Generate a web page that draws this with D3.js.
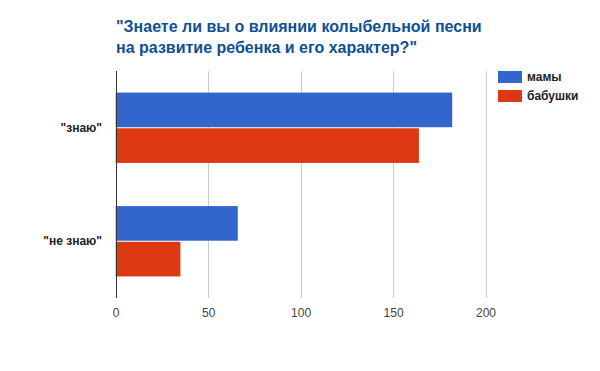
<!DOCTYPE html>
<html><head><meta charset="utf-8">
<script src="https://cdnjs.cloudflare.com/ajax/libs/d3/7.8.5/d3.min.js"></script>
<style>body{margin:0;background:#fff}svg{display:block}</style>
</head><body>
<script>
const categories = ['"знаю"', '"не знаю"'];
const seriesNames = ["мамы", "бабушки"];
const mamy = [182, 66];
const babushki = [164, 35];
const xTicks = [0, 50, 100, 150, 200];
const titleLines = ['"Знаете ли вы о влиянии колыбельной песни', 'на развитие ребенка и его характер?"'];
const colors = ["#3366cc", "#dc3912"];

const W = 600, H = 371;
const svg = d3.select("body").append("svg").attr("width", W).attr("height", H);
const font = "Arial, 'Liberation Sans', sans-serif";

const x = d3.scaleLinear().domain([0, 200]).range([115.7, 485.5]);
const y0 = d3.scaleBand().domain(categories).range([71, 298]).paddingInner(0.38).paddingOuter(0.19);
const y1 = d3.scaleBand().domain(seriesNames).range([0, y0.bandwidth()]).paddingInner(0.03);

const rows = categories.map((c, i) => ({c, vals: [mamy[i], babushki[i]]}));

// gridlines
svg.append("g").selectAll("line").data(xTicks.filter(t => t !== 0)).join("line")
  .attr("x1", d => Math.round(x(d)) + 0.5).attr("x2", d => Math.round(x(d)) + 0.5)
  .attr("y1", 71).attr("y2", 298).attr("stroke", "#cccccc").attr("stroke-width", 1);

// bars
const g = svg.append("g").selectAll("g").data(rows).join("g")
  .attr("transform", d => `translate(0,${y0(d.c)})`);
g.selectAll("rect").data(d => d.vals.map((v, j) => ({v, s: seriesNames[j], j}))).join("rect")
  .attr("x", x(0)).attr("y", d => y1(d.s)).attr("height", y1.bandwidth())
  .attr("width", d => x(d.v) - x(0)).attr("fill", d => colors[d.j]);

// zero axis
svg.append("line").attr("x1", Math.round(x(0)) + 0.5).attr("x2", Math.round(x(0)) + 0.5)
  .attr("y1", 71).attr("y2", 298).attr("stroke", "#333333").attr("stroke-width", 1);

// x tick labels
const xAxis = d3.axisBottom(x).tickValues(xTicks).tickSize(0).tickPadding(0);
const ax = svg.append("g").attr("transform", "translate(0,308)").call(xAxis);
ax.select(".domain").remove();
ax.selectAll("text").attr("font-family", font).attr("font-size", 12).attr("fill", "#444444").attr("dy", "0.71em");

// category labels
const yAxis = d3.axisLeft(y0).tickSize(0).tickPadding(0);
const ay = svg.append("g").attr("transform", "translate(102,0)").call(yAxis);
ay.select(".domain").remove();
ay.selectAll("text").attr("font-family", font).attr("font-size", 12).attr("font-weight", "bold").attr("fill", "#222222");

// title
svg.append("text").attr("x", 116).attr("y", 32).attr("font-family", font).attr("font-size", 16)
  .attr("font-weight", "bold").attr("fill", "#0f4f94")
  .selectAll("tspan").data(titleLines).join("tspan")
  .attr("x", 116).attr("dy", (d, i) => i === 0 ? 0 : 21).text(d => d);

// legend
const lg = svg.append("g").selectAll("g").data(seriesNames).join("g")
  .attr("transform", (d, i) => `translate(498,${71 + i * 19})`);
lg.append("rect").attr("width", 24).attr("height", 12).attr("fill", (d, i) => colors[i]);
lg.append("text").attr("x", 29).attr("y", 6).attr("dy", "0.35em").attr("font-family", font)
  .attr("font-size", 12).attr("font-weight", "bold").attr("fill", "#222222").text(d => d);
</script>
</body></html>
